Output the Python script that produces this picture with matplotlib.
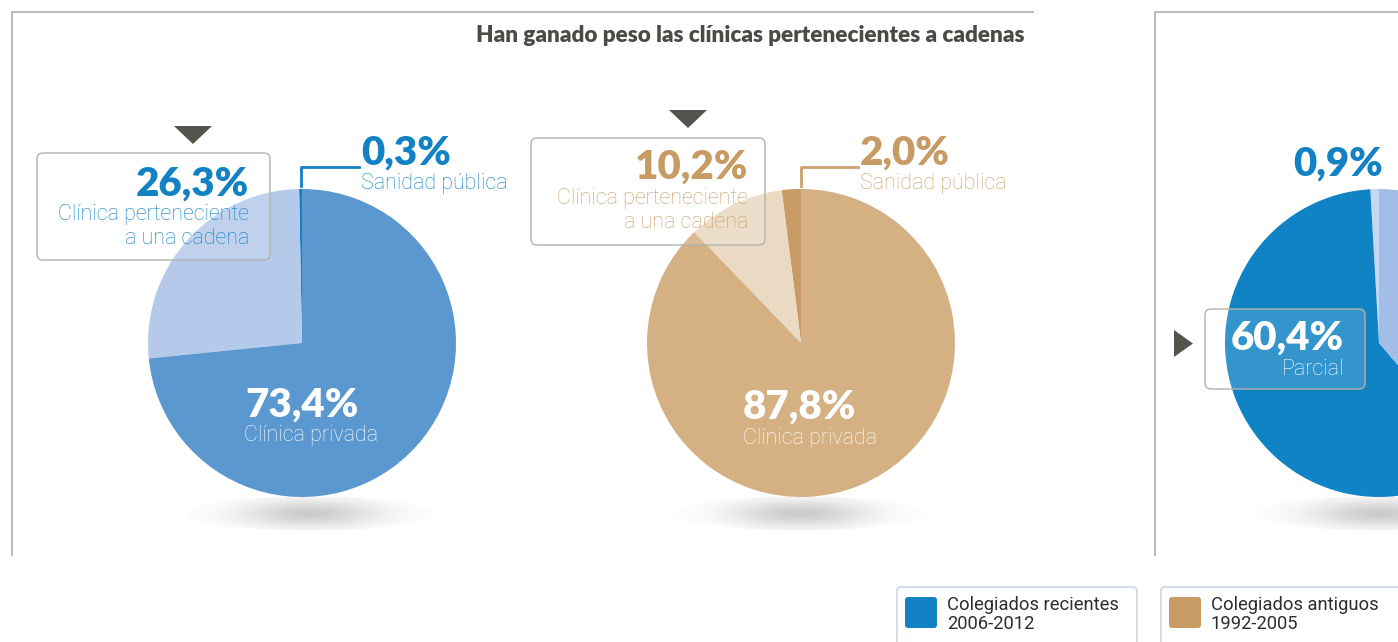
import numpy as np
import matplotlib
matplotlib.use('Agg')
import matplotlib.pyplot as plt
from matplotlib.patches import Polygon, FancyBboxPatch

# datos
title = 'Han ganado peso las clínicas pertenecientes a cadenas'

pie1_labels = ['Sanidad pública', 'Clínica perteneciente\na una cadena', 'Clínica privada']
pie1_values = [0.3, 26.3, 73.4]
pie1_colors = ['#1282c4', '#b5caea', '#5b98d0']

pie2_labels = ['Sanidad pública', 'Clínica perteneciente\na una cadena', 'Clínica privada']
pie2_values = [2.0, 10.2, 87.8]
pie2_colors = ['#c89b64', '#ead9c3', '#d4b083']

pie3_labels = ['', 'Parcial', '']
pie3_values = [0.9, 60.4, 38.7]
pie3_colors = ['#c8d7ef', '#1083c4', '#a3bee6']

legend_labels = ['Colegiados recientes\n2006-2012', 'Colegiados antiguos\n1992-2005']
legend_colors = ['#1282c4', '#c89b64']

W, H = 1398, 642
FONT = ['Lato', 'DejaVu Sans']
THIN = ['Roboto', 'Lato', 'DejaVu Sans']


def fy(y):
    return H - y


def pct(v):
    return f'{v:.1f}'.replace('.', ',') + '%'


fig = plt.figure(figsize=(W / 100, H / 100), dpi=100)
ax = fig.add_axes([0, 0, 1, 1])

# marcos de los paneles
frame = '#bdbdb8'
ax.plot([12, 12, 1033], [fy(555), fy(12), fy(12)], color=frame, lw=1.5, zorder=0)
ax.plot([1155, 1155, W], [fy(555), fy(12), fy(12)], color=frame, lw=1.5, zorder=0)

ax.text(1025, fy(36), title, ha='right', va='center', fontsize=16.2,
        fontweight='heavy', color='#4b4b46', family=FONT)

# sombras bajo las tartas
ny, nx = 40, 260
gx, gy = np.meshgrid(np.linspace(-1, 1, nx), np.linspace(-1, 1, ny))
alpha = 0.36 * np.exp(-(gx / 0.55) ** 2 - (gy / 0.8) ** 2)
alpha[gx ** 2 + gy ** 2 > 1] = 0
shadow = np.zeros((ny, nx, 4))
shadow[..., :3] = 0.45
shadow[..., 3] = alpha
for cx in [310, 800, 1380]:
    ax.imshow(shadow, extent=(cx - 125, cx + 125, fy(531), fy(496)), zorder=1,
              interpolation='bilinear')

centers = [(302, 343), (801, 343), (1379, 343)]
R = 154
for (cx, cy), vals, cols in zip(centers, [pie1_values, pie2_values, pie3_values],
                                [pie1_colors, pie2_colors, pie3_colors]):
    wedges, _ = ax.pie(vals, colors=cols, startangle=90, counterclock=True,
                       center=(cx, fy(cy)), radius=R, wedgeprops=dict(linewidth=0))
    for w in wedges:
        w.set_zorder(2)


def box(x0, y0, x1, y1):
    p = FancyBboxPatch((x0, fy(y1)), x1 - x0, y1 - y0,
                       boxstyle='round,pad=0,rounding_size=6',
                       facecolor=(1, 1, 1, 0.15), edgecolor='#b4b3ab', lw=1, zorder=3)
    ax.add_patch(p)


def tri_down(cx, y0, y1, half):
    ax.add_patch(Polygon([(cx - half, fy(y0)), (cx + half, fy(y0)), (cx, fy(y1))],
                         closed=True, color='#55544c', lw=0, zorder=3))


def big(x, y, s, color, ha):
    ax.text(x, fy(y), s, ha=ha, va='baseline', fontsize=29, fontweight='heavy',
            color=color, family=FONT, zorder=4)


def small(x, y, s, color, ha):
    ax.text(x, fy(y), s, ha=ha, va='baseline', fontsize=15.5, fontweight='light',
            color=color, family=THIN, zorder=4)


# tarta 1
blue = '#1282c4'
tri_down(193, 126, 144, 19)
box(37, 153, 270, 260)
big(249, 196, pct(pie1_values[1]), blue, 'right')
small(249, 220, pie1_labels[1].split('\n')[0], blue, 'right')
small(249, 244, pie1_labels[1].split('\n')[1], blue, 'right')
big(361, 165, pct(pie1_values[0]), blue, 'left')
small(361, 189, pie1_labels[0], blue, 'left')
ax.plot([301, 301, 359], [fy(186), fy(167), fy(167)], color=blue, lw=2, zorder=4)
big(245, 417, pct(pie1_values[2]), 'white', 'left')
small(244, 441, pie1_labels[2], 'white', 'left')

# tarta 2
tan = '#c89b64'
tan_l = '#cda06a'
tri_down(688, 110, 128, 19)
box(531, 138, 765, 245)
big(748, 179, pct(pie2_values[1]), tan, 'right')
small(748, 204, pie2_labels[1].split('\n')[0], tan_l, 'right')
small(748, 228, pie2_labels[1].split('\n')[1], tan_l, 'right')
big(860, 165, pct(pie2_values[0]), tan, 'left')
small(860, 189, pie2_labels[0], tan_l, 'left')
ax.plot([801, 801, 858], [fy(186), fy(167), fy(167)], color=tan_l, lw=2, zorder=4)
big(743, 419, pct(pie2_values[2]), 'white', 'left')
small(743, 444, pie2_labels[2], 'white', 'left')

# tarta 3 (cortada)
ax.add_patch(Polygon([(1174, fy(330)), (1174, fy(357)), (1193, fy(343.5))],
                     closed=True, color='#55544c', lw=0, zorder=3))
box(1205, 309, 1365, 389)
big(1344, 350, pct(pie3_values[1]), 'white', 'right')
small(1344, 375, pie3_labels[1], 'white', 'right')
big(1293, 176, pct(pie3_values[0]), blue, 'left')

# leyenda
for i, (lab, col) in enumerate(zip(legend_labels, legend_colors)):
    x0 = [897, 1161][i]
    ax.add_patch(FancyBboxPatch((x0, fy(660)), 240, 73,
                                boxstyle='round,pad=0,rounding_size=4',
                                facecolor='white', edgecolor='#d4dcec', lw=1.5, zorder=3))
    ax.add_patch(FancyBboxPatch((x0 + 8, fy(628)), 32, 31,
                                boxstyle='round,pad=0,rounding_size=3',
                                facecolor=col, edgecolor='none', zorder=4))
    ax.text(x0 + 50, fy(596), lab, ha='left', va='top', fontsize=13.2,
            fontweight='normal', color='#2e2e2e', family=THIN, linespacing=1.05,
            zorder=4)

ax.set_xlim(0, W)
ax.set_ylim(0, H)
ax.set_aspect('auto')
ax.axis('off')
fig.savefig('out.png', dpi=100)
